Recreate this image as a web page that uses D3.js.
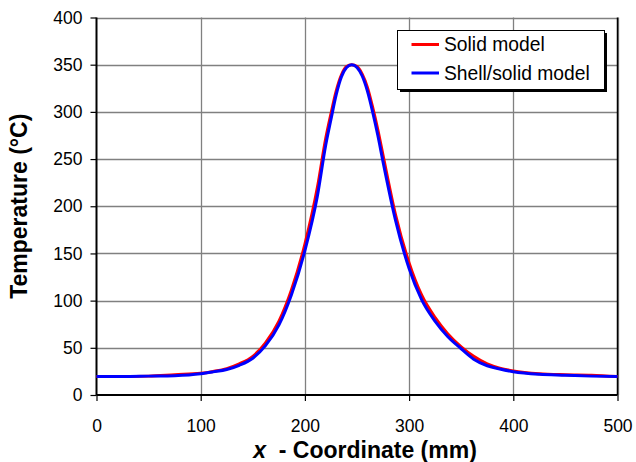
<!DOCTYPE html>
<html>
<head>
<meta charset="utf-8">
<script src="https://cdn.jsdelivr.net/npm/d3@7"></script>
<style>
  html, body { margin: 0; padding: 0; background: #fff; }
  svg { display: block; font-family: Arial, "Liberation Sans", sans-serif; }
</style>
</head>
<body>
<svg id="chart" width="636" height="462"></svg>
<script>
// ---- Data ----
const xPositions = [0, 25, 50, 75, 100, 112, 125, 137, 150, 162, 175, 187, 200, 212, 220, 225, 230, 235, 240, 245, 250, 255, 260, 265, 270, 275, 287, 300, 312, 325, 337, 350, 362, 375, 387, 400, 425, 450, 475, 500];
const solidModel = [19.5, 19.5, 20, 21.5, 23, 25, 28, 33, 41, 55, 78, 111, 160, 220, 272, 298, 322, 339, 348, 350, 348, 340, 326, 305, 281, 254, 191, 140, 106, 82, 65, 51, 41, 33, 28.5, 25.5, 22.5, 21.5, 21, 19.5];
const shellSolidModel = [19.5, 19.5, 20, 20.5, 22.5, 24.5, 27, 31.5, 39, 52, 74, 106, 153, 211, 265, 292, 318, 337, 347, 350, 347, 338, 322, 300, 275, 247, 185, 134, 101, 78, 62, 49, 38, 31, 27.5, 24.7, 22, 21, 20, 19.5];
const seriesNames = ["Solid model", "Shell/solid model"];
const seriesColors = ["#ff0000", "#0000ff"];
const xTicks = [0, 100, 200, 300, 400, 500];
const yTicks = [0, 50, 100, 150, 200, 250, 300, 350, 400];

const svg = d3.select("#chart");
const pLeft = 96.5, pRight = 617.5, pTop = 17.5, pBottom = 395;

const x = d3.scaleLinear().domain([0, 500]).range([pLeft, pRight]);
const y = d3.scaleLinear().domain([0, 400]).range([pBottom, pTop]);

// gridlines
const grid = svg.append("g");
grid.selectAll("line.h").data(yTicks.filter(d => d > 0)).enter().append("line")
  .attr("x1", pLeft).attr("x2", pRight)
  .attr("y1", d => Math.round(y(d)) + 0.5).attr("y2", d => Math.round(y(d)) + 0.5)
  .attr("stroke", "#808080").attr("stroke-width", 1.3);
grid.selectAll("line.v").data(xTicks.filter(d => d > 0)).enter().append("line")
  .attr("y1", pTop).attr("y2", pBottom)
  .attr("x1", d => Math.round(x(d)) + 0.5).attr("x2", d => Math.round(x(d)) + 0.5)
  .attr("stroke", "#808080").attr("stroke-width", 1.3);

// right border
svg.append("line").attr("x1", pRight).attr("x2", pRight).attr("y1", pTop).attr("y2", pBottom)
  .attr("stroke", "#000").attr("stroke-width", 1.5);

// axes
const yAxis = d3.axisLeft(y).tickValues(yTicks).tickSize(6).tickPadding(8).tickFormat(d3.format("d"));
const xAxis = d3.axisBottom(x).tickValues(xTicks).tickSize(6).tickPadding(19).tickFormat(d3.format("d"));

const gy = svg.append("g").attr("transform", `translate(${pLeft},0)`).call(yAxis);
const gx = svg.append("g").attr("transform", `translate(0,${pBottom})`).call(xAxis);
[gx, gy].forEach(g => {
  g.select(".domain").attr("stroke", "#000").attr("stroke-width", 2);
  g.selectAll(".tick line").attr("stroke", "#000").attr("stroke-width", 1.2);
  g.selectAll(".tick text").attr("fill", "#000").style("font-size", "17.5px")
    .style("font-family", "Arial, 'Liberation Sans', sans-serif");
});
gy.select(".domain").attr("d", `M0,${pTop}V${pBottom}`);
gx.select(".domain").attr("d", `M${pLeft},0H${pRight}`);

// lines
const series = [solidModel, shellSolidModel];
const line = d3.line().x((d, i) => x(xPositions[i])).y(d => y(d)).curve(d3.curveMonotoneX);
series.forEach((vals, k) => {
  svg.append("path").datum(vals)
    .attr("d", line)
    .attr("fill", "none")
    .attr("stroke", seriesColors[k])
    .attr("stroke-width", 3)
    .attr("stroke-linejoin", "round");
});

// legend
const lg = svg.append("g");
lg.append("rect").attr("x", 400).attr("y", 33).attr("width", 207).attr("height", 59).attr("fill", "#000");
lg.append("rect").attr("x", 397.5).attr("y", 30.5).attr("width", 207).attr("height", 59)
  .attr("fill", "#fff").attr("stroke", "#000").attr("stroke-width", 1);
seriesNames.forEach((name, k) => {
  const yy = 44.5 + k * 28.5;
  lg.append("line").attr("x1", 411.5).attr("x2", 439).attr("y1", yy).attr("y2", yy)
    .attr("stroke", seriesColors[k]).attr("stroke-width", 3);
  lg.append("text").attr("x", 444).attr("y", yy).attr("dy", "0.36em")
    .style("font-size", "19.3px").attr("fill", "#000").text(name);
});

// axis titles
svg.append("text")
  .attr("transform", `translate(27,${(pTop + pBottom) / 2}) rotate(-90)`)
  .attr("text-anchor", "middle")
  .style("font-size", "23px").style("font-weight", "bold")
  .text("Temperature (°C)");

const xt = svg.append("text")
  .attr("x", (pLeft + pRight) / 2 + 8).attr("y", 458)
  .attr("text-anchor", "middle")
  .style("font-size", "23px").style("font-weight", "bold")
  .style("white-space", "pre");
xt.append("tspan").style("font-style", "italic").text("x");
xt.append("tspan").text("  - Coordinate (mm)");
</script>
</body>
</html>
